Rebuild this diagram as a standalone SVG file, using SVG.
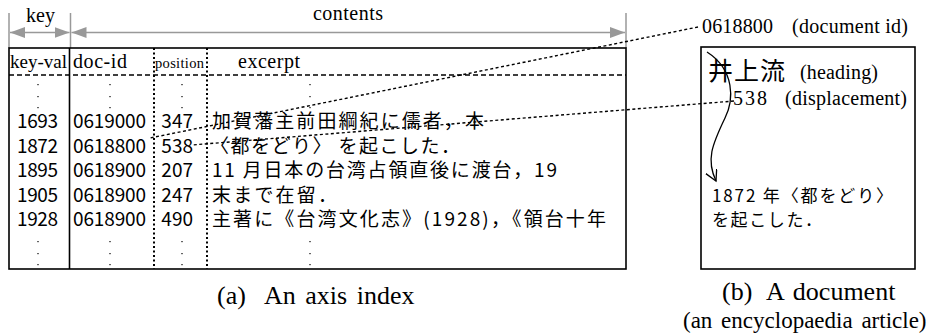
<svg xmlns="http://www.w3.org/2000/svg" width="930" height="333" viewBox="0 0 930 333">
<style>
.serif{font-family:"Liberation Serif","Times New Roman",serif;fill:#000}
.jp{font-family:"Noto Sans CJK JP","Noto Sans CJK SC",sans-serif;fill:#000}
.frame{fill:none;stroke:#000;stroke-width:1.6}
.dim{fill:none;stroke:#999;stroke-width:1.5}
.hdash{fill:none;stroke:#000;stroke-width:1.3;stroke-dasharray:5 3}
.vdot{fill:none;stroke:#000;stroke-width:2;stroke-dasharray:2 2.5}
.conn{fill:none;stroke:#000;stroke-width:1.4;stroke-dasharray:3 2.5}
.dots{fill:#000}
</style>
<defs>
<marker id="grey-head" markerUnits="userSpaceOnUse" markerWidth="16" markerHeight="12" refX="15" refY="5.5" orient="auto-start-reverse">
<path d="M0,0 L15,5.5 L0,11 z" fill="#999"/>
</marker>
<marker id="black-open" markerUnits="userSpaceOnUse" markerWidth="14" markerHeight="14" refX="11" refY="6" orient="auto">
<path d="M0,0 L11,6 L0,12" fill="none" stroke="#000" stroke-width="1.3"/>
</marker>
<g id="dotcol">
<rect x="-0.6" y="0" width="1.2" height="1.2"/>
<rect x="-0.6" y="12" width="1.2" height="1.2"/>
<rect x="-0.6" y="23" width="1.2" height="1.2"/>
</g>
</defs>

<g id="dimensions">
<line class="dim" x1="9" y1="13" x2="9" y2="48"/>
<line class="dim" x1="70.5" y1="13" x2="70.5" y2="48"/>
<line class="dim" x1="626" y1="13" x2="626" y2="48"/>
<line class="dim" x1="10" y1="32.5" x2="69.5" y2="32.5" marker-start="url(#grey-head)" marker-end="url(#grey-head)"/>
<line class="dim" x1="71.5" y1="32.5" x2="625" y2="32.5" marker-start="url(#grey-head)" marker-end="url(#grey-head)"/>
<text class="serif" x="26" y="22" font-size="20">key</text>
<text class="serif" x="313" y="20" font-size="20" textLength="70" lengthAdjust="spacing">contents</text>
</g>

<g id="axis-index">
<rect class="frame" x="9" y="48" width="617" height="221"/>
<line class="frame" x1="69.5" y1="48" x2="69.5" y2="269"/>
<line class="vdot" x1="154" y1="48" x2="154" y2="269"/>
<line class="vdot" x1="207" y1="48" x2="207" y2="269"/>
<line class="hdash" x1="9" y1="75" x2="626" y2="75"/>
<text class="serif" x="10" y="68" font-size="19" textLength="57" lengthAdjust="spacing">key-val</text>
<text class="serif" x="73" y="68" font-size="20" textLength="54" lengthAdjust="spacing">doc-id</text>
<text class="serif" x="155" y="68" font-size="14.5" textLength="49" lengthAdjust="spacing">position</text>
<text class="serif" x="238" y="68" font-size="20" textLength="62" lengthAdjust="spacing">excerpt</text>
<g class="dots">
<use href="#dotcol" x="38" y="84"/><use href="#dotcol" x="110" y="84"/><use href="#dotcol" x="182" y="84"/><use href="#dotcol" x="310" y="84"/>
<use href="#dotcol" x="38" y="241"/><use href="#dotcol" x="110" y="241"/><use href="#dotcol" x="182" y="241"/><use href="#dotcol" x="310" y="241"/>
</g>
<g class="jp" font-size="19">
<text x="17" y="128" textLength="41">1693</text>
<text x="17" y="152.5" textLength="41">1872</text>
<text x="17" y="177" textLength="41">1895</text>
<text x="17" y="201.5" textLength="41">1905</text>
<text x="17" y="226" textLength="41">1928</text>
<text x="73" y="128" textLength="73">0619000</text>
<text x="73" y="152.5" textLength="73">0618800</text>
<text x="73" y="177" textLength="73">0618900</text>
<text x="73" y="201.5" textLength="73">0618900</text>
<text x="73" y="226" textLength="73">0618900</text>
<text x="193" y="128" text-anchor="end">347</text>
<text x="193" y="152.5" text-anchor="end">538</text>
<text x="193" y="177" text-anchor="end">207</text>
<text x="193" y="201.5" text-anchor="end">247</text>
<text x="193" y="226" text-anchor="end">490</text>
<text x="212" y="128" textLength="272" lengthAdjust="spacing">加賀藩主前田綱紀に儒者，本</text>
<text x="210" y="152.5" textLength="250" lengthAdjust="spacing">〈都をどり〉 を起こした．</text>
<text x="212" y="177" textLength="345" lengthAdjust="spacing">11 月日本の台湾占領直後に渡台，19</text>
<text x="212" y="201.5" textLength="125" lengthAdjust="spacing">末まで在留．</text>
<text x="212" y="226" textLength="394" lengthAdjust="spacing">主著に《台湾文化志》(1928)，《領台十年</text>
</g>
</g>

<g id="document">
<rect class="frame" x="701" y="47" width="214" height="222"/>
<text class="jp" x="708" y="80" font-size="25" textLength="77">井上流</text>
<text class="serif" x="800" y="79" font-size="20" textLength="78" lengthAdjust="spacing">(heading)</text>
<text class="serif" x="733" y="105" font-size="20" textLength="34">538</text>
<text class="serif" x="785" y="105" font-size="20" textLength="122" lengthAdjust="spacing">(displacement)</text>
<text class="jp" x="712" y="202" font-size="17" textLength="181" lengthAdjust="spacing">1872 年〈都をどり〉</text>
<text class="jp" x="712" y="226" font-size="17" textLength="110" lengthAdjust="spacing">を起こした．</text>
</g>

<g id="doc-id-label">
<text class="serif" x="702" y="33" font-size="20" textLength="71">0618800</text>
<text class="serif" x="792" y="33" font-size="20" textLength="116" lengthAdjust="spacing">(document id)</text>
</g>

<g id="connectors">
<line class="conn" x1="698" y1="27" x2="150" y2="138"/>
<line class="conn" x1="734" y1="101" x2="192" y2="145"/>
<path d="M707,52 C735,70 734,100 725,118 C712,145 706,160 716,181" fill="none" stroke="#000" stroke-width="1.3" marker-end="url(#black-open)"/>
</g>

<g id="captions">
<text class="serif" y="304" font-size="26"><tspan x="217">(a)</tspan><tspan x="264" word-spacing="3">An axis index</tspan></text>
<text class="serif" y="300" font-size="26"><tspan x="722">(b)</tspan><tspan x="766" word-spacing="3">A document</tspan></text>
<text class="serif" x="683" y="328" font-size="23" word-spacing="3">(an encyclopaedia article)</text>
</g>
</svg>
